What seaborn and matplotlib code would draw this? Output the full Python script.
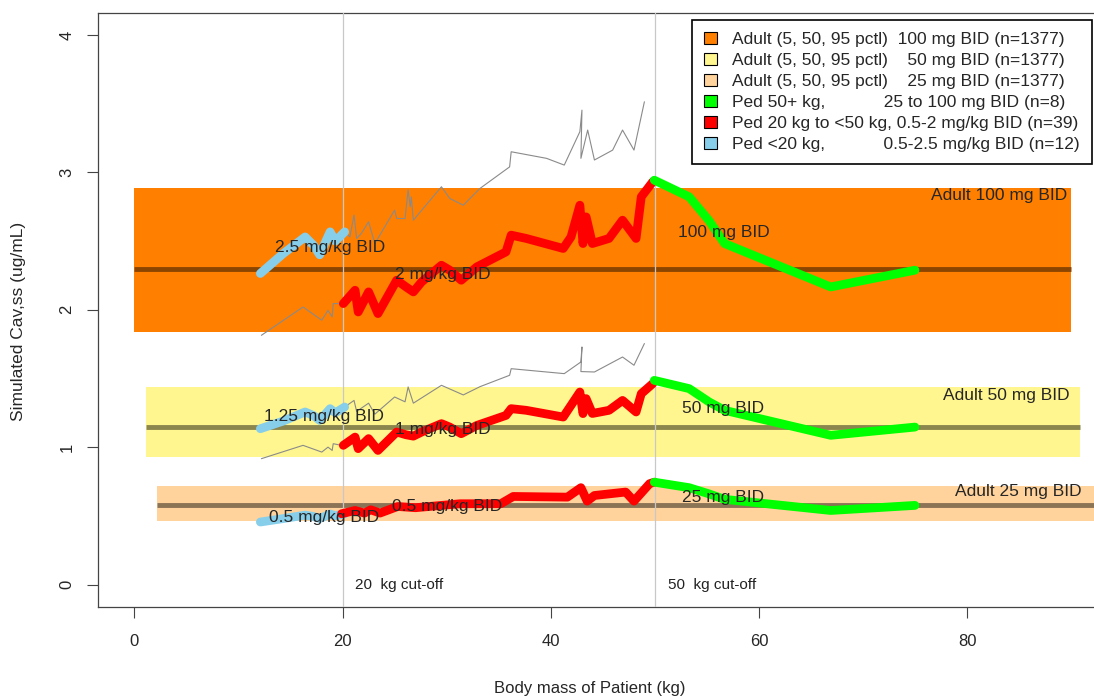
import matplotlib
matplotlib.use("Agg")
import matplotlib.pyplot as plt
import seaborn as sns
import pandas as pd
from matplotlib.patches import Patch

# adult reference bands (5th, 50th, 95th pctl) for 100, 50, 25 mg BID
adult_dose = ["100 mg", "50 mg", "25 mg"]
adult_p05 = [1.836, 0.925, 0.459]
adult_p50 = [2.295, 1.144, 0.576]
adult_p95 = [2.885, 1.435, 0.714]

# Ped <20 kg (blue)
blue_wt = [12.1, 14.3, 16.4, 17.2, 17.8, 18.8, 19.3, 20.2]
blue_100 = [2.264, 2.409, 2.53, 2.47, 2.40, 2.567, 2.50, 2.567]
blue_50 = [1.134, 1.19, 1.256, 1.23, 1.195, 1.28, 1.25, 1.292]
blue_25 = [0.455, 0.48, 0.505, 0.495, 0.48, 0.513, 0.50, 0.515]

# Ped 20 to <50 kg (red)
red_wt = [20.07, 21.2, 21.5, 22.5, 23.4, 25.2, 26.1, 26.8, 27.6, 29.5, 30.3, 31.4, 32.9, 35.7,
          36.2, 37.65, 41.2, 41.95, 42.8, 43.1, 43.4, 44.0, 45.6, 46.9, 48.2, 48.7, 49.8]
red_100 = [2.045, 2.142, 1.984, 2.13, 1.972, 2.215, 2.166, 2.13, 2.203, 2.324, 2.288, 2.215, 2.312, 2.421,
           2.543, 2.519, 2.446, 2.53, 2.761, 2.482, 2.676, 2.482, 2.519, 2.652, 2.519, 2.822, 2.931]
red_50 = [1.013, 1.073, 0.989, 1.062, 0.976, 1.11, 1.09, 1.08, 1.11, 1.171, 1.146, 1.098, 1.158, 1.231,
          1.28, 1.268, 1.219, 1.304, 1.401, 1.244, 1.353, 1.245, 1.268, 1.34, 1.256, 1.389, 1.462]
red25_wt = [19.9, 21.2, 22.1, 22.7, 23.6, 25.3, 27.0, 31.3, 35.2, 36.4, 41.6, 42.9, 43.5, 44.2, 47.2, 48.0, 49.5, 49.96]
red_25 = [0.515, 0.539, 0.52, 0.544, 0.52, 0.568, 0.559, 0.588, 0.588, 0.641, 0.636, 0.705, 0.607, 0.648,
          0.673, 0.607, 0.734, 0.745]

# Ped 50+ kg (green)
green_wt = [49.95, 53.3, 55.2, 56.7, 66.9, 75.0]
green_100 = [2.943, 2.822, 2.65, 2.482, 2.166, 2.288]
green_50 = [1.486, 1.426, 1.33, 1.268, 1.086, 1.146]
green_25 = [0.745, 0.705, 0.66, 0.62, 0.539, 0.576]

# grey traces: <20 kg at the 20-50 kg mg/kg dose, 20-50 kg at the <20 kg mg/kg dose
greylo_wt = [12.2, 16.2, 18.0, 18.6, 19.0, 19.1, 19.9]
greylo_100 = [1.814, 2.02, 1.924, 1.996, 1.948, 2.045, 2.045]
greylo_50 = [0.916, 1.013, 0.964, 1.0, 0.976, 1.025, 1.013]

greyhi_wt = [20.2, 20.7, 21.1, 21.35, 21.8, 22.5, 23.1, 25.0, 25.2, 26.0, 26.3, 26.5, 26.6, 26.8, 29.5, 30.3,
             31.6, 33.2, 36.05, 36.2, 39.6, 41.3, 42.8, 43.0, 42.9, 43.55, 44.2, 45.95, 46.9, 48.0, 49.0]
greyhi_100 = [2.567, 2.53, 2.689, 2.519, 2.555, 2.64, 2.482, 2.725, 2.664, 2.664, 2.871, 2.749, 2.822, 2.652,
              2.895, 2.81, 2.761, 2.883, 3.04, 3.15, 3.102, 3.053, 3.296, 3.453, 3.102, 3.308, 3.09, 3.162,
              3.308, 3.162, 3.514]
greyhi50_wt = [20.2, 21.1, 21.35, 22.5, 23.1, 25.0, 26.0, 26.3, 26.8, 29.5, 31.6, 33.2, 36.05, 36.2, 41.3,
               42.9, 43.0, 42.9, 44.2, 46.9, 48.0, 49.0]
greyhi_50 = [1.292, 1.34, 1.26, 1.32, 1.24, 1.365, 1.33, 1.438, 1.32, 1.45, 1.38, 1.44, 1.523, 1.571, 1.535,
             1.62, 1.729, 1.55, 1.547, 1.656, 1.596, 1.754]

legend_labels = [
    "Adult (5, 50, 95 pctl)  100 mg BID (n=1377)",
    "Adult (5, 50, 95 pctl)    50 mg BID (n=1377)",
    "Adult (5, 50, 95 pctl)    25 mg BID (n=1377)",
    "Ped 50+ kg,            25 to 100 mg BID (n=8)",
    "Ped 20 kg to <50 kg, 0.5-2 mg/kg BID (n=39)",
    "Ped <20 kg,            0.5-2.5 mg/kg BID (n=12)",
]

sns.set_style("white")
plt.rcParams['font.family'] = ['Liberation Sans', 'DejaVu Sans']

band_cols = ["#FF7F00", "#FFF68F", "#FFD39B"]
med_cols = ["#8B4500", "#8B864E", "#8B7355"]
band_x = [(0, 90), (1.1, 90.9), (2.2, 93)]

fig = plt.figure(figsize=(10.94, 6.98), dpi=100)
ax = fig.add_axes([98 / 1094, 1 - 606.5 / 698, 996 / 1094, (606.5 - 13) / 698])

for i in range(3):
    x0, x1 = band_x[i]
    ax.fill_between([x0, x1], adult_p05[i], adult_p95[i], color=band_cols[i], lw=0, zorder=1)
    ax.plot([x0, x1], [adult_p50[i]] * 2, color=med_cols[i], lw=3.5, zorder=2, solid_capstyle="butt")

ax.axvline(20, color="#C8C8C8", lw=0.9, zorder=3)
ax.axvline(50, color="#C8C8C8", lw=0.9, zorder=3)

# grey traces
grey = pd.concat([
    pd.DataFrame({"wt": greylo_wt, "cav": greylo_100, "seg": "lo100"}),
    pd.DataFrame({"wt": greylo_wt, "cav": greylo_50, "seg": "lo50"}),
    pd.DataFrame({"wt": greyhi_wt, "cav": greyhi_100, "seg": "hi100"}),
    pd.DataFrame({"wt": greyhi50_wt, "cav": greyhi_50, "seg": "hi50"}),
])
for seg, d in grey.groupby("seg"):
    sns.lineplot(data=d, x="wt", y="cav", sort=False, estimator=None, color="#8A8A8A", lw=0.8, ax=ax, zorder=4)

thick = dict(lw=6.3, solid_capstyle="round", solid_joinstyle="round", zorder=5)
curves = [
    (blue_wt, blue_100, "#87CEEB"), (blue_wt, blue_50, "#87CEEB"), (blue_wt, blue_25, "#87CEEB"),
    (red_wt, red_100, "#FF0000"), (red_wt, red_50, "#FF0000"), (red25_wt, red_25, "#FF0000"),
    (green_wt, green_100, "#00FF00"), (green_wt, green_50, "#00FF00"), (green_wt, green_25, "#00FF00"),
]
for wt, cav, col in curves:
    d = pd.DataFrame({"wt": wt, "cav": cav})
    sns.lineplot(data=d, x="wt", y="cav", sort=False, estimator=None, color=col, ax=ax, **thick)

# labels on the chart
fs = 12.5
ax.text(89.6, 2.834, "Adult 100 mg BID", ha="right", va="center", fontsize=fs, zorder=6)
ax.text(89.9, 1.377, "Adult 50 mg BID", ha="right", va="center", fontsize=fs, zorder=6)
ax.text(91.0, 0.678, "Adult 25 mg BID", ha="right", va="center", fontsize=fs, zorder=6)
ax.text(18.8, 2.455, "2.5 mg/kg BID", ha="center", va="center", fontsize=fs, zorder=6)
ax.text(29.6, 2.259, "2 mg/kg BID", ha="center", va="center", fontsize=fs, zorder=6)
ax.text(56.6, 2.562, "100 mg BID", ha="center", va="center", fontsize=fs, zorder=6)
ax.text(18.2, 1.224, "1.25 mg/kg BID", ha="center", va="center", fontsize=fs, zorder=6)
ax.text(29.6, 1.129, "1 mg/kg BID", ha="center", va="center", fontsize=fs, zorder=6)
ax.text(56.6, 1.28, "50 mg BID", ha="center", va="center", fontsize=fs, zorder=6)
ax.text(18.2, 0.49, "0.5 mg/kg BID", ha="center", va="center", fontsize=fs, zorder=6)
ax.text(30.0, 0.568, "0.5 mg/kg BID", ha="center", va="center", fontsize=fs, zorder=6)
ax.text(56.6, 0.636, "25 mg BID", ha="center", va="center", fontsize=fs, zorder=6)
ax.text(21.2, 0.0, "20  kg cut-off", ha="left", va="center", fontsize=11, color="#222222", zorder=6)
ax.text(51.3, 0.0, "50  kg cut-off", ha="left", va="center", fontsize=11, color="#222222", zorder=6)

ax.set_xlim(-3.5, 92.2)
ax.set_ylim(-0.16, 4.16)
ax.set_xticks([0, 20, 40, 60, 80])
ax.set_yticks([0, 1, 2, 3, 4])
ax.tick_params(axis="both", direction="out", length=8, width=0.8, color="#444444",
               labelsize=12, bottom=True, left=True)
ax.tick_params(axis="x", pad=12)
ax.tick_params(axis="y", labelrotation=90, pad=9)
for lab in ax.get_yticklabels():
    lab.set_va("center")
ax.set_xlabel("Body mass of Patient (kg)", fontsize=12)
ax.set_ylabel("Simulated Cav,ss (ug/mL)", fontsize=12.5)
ax.xaxis.set_label_coords(0.494, -0.125)
ax.yaxis.set_label_coords(-0.072, 0.481)
for s in ["left", "top", "bottom"]:
    ax.spines[s].set_color("#444444")
    ax.spines[s].set_linewidth(0.9)
ax.spines["right"].set_visible(False)

handles = [Patch(facecolor=c, edgecolor="black", lw=0.8)
           for c in ["#FF7F00", "#FFF68F", "#FFD39B", "#00FF00", "#FF0000", "#87CEEB"]]
leg = ax.legend(handles, legend_labels, loc="upper right", bbox_to_anchor=(0.998, 0.988),
                fontsize=12.5, frameon=True, fancybox=False, framealpha=1, edgecolor="black",
                handlelength=0.7, handleheight=0.7, labelspacing=0.33, borderpad=0.7,
                handletextpad=0.9, borderaxespad=0)
leg.get_frame().set_linewidth(1.2)
leg.set_zorder(10)

fig.savefig("out.png", dpi=100)
